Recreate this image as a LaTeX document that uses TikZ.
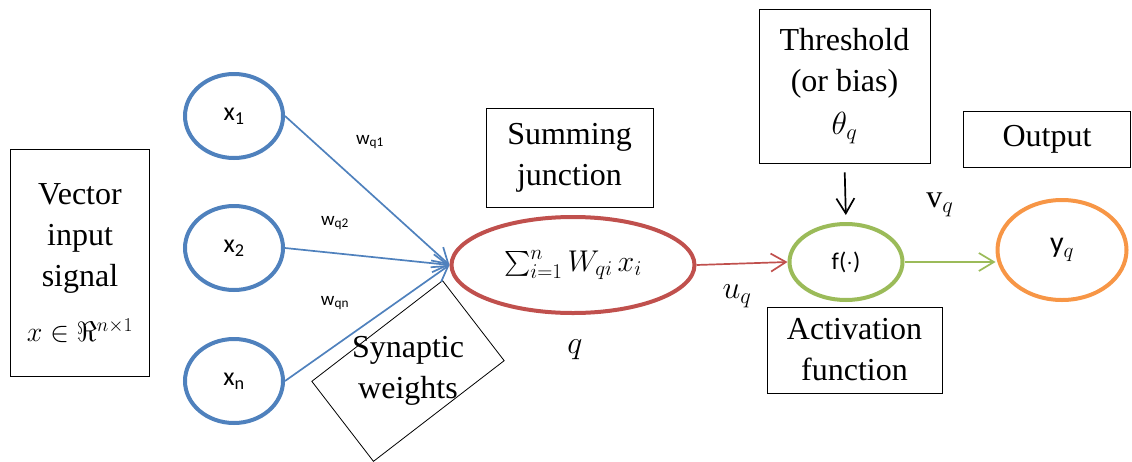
\RequirePackage{fix-cm}
\documentclass[tikz,border=0pt]{standalone}
\usepackage{exscale}
\usepackage{fontspec}
\setmainfont{Liberation Serif}
\setsansfont{Carlito}
\usetikzlibrary{arrows.meta, shapes.geometric}
\definecolor{inblue}{RGB}{79,129,189}
\definecolor{sumred}{RGB}{192,80,77}
\definecolor{actgreen}{RGB}{155,187,89}
\definecolor{outorange}{RGB}{247,150,70}

\begin{document}
\begin{tikzpicture}[
  x=1pt, y=-1pt,
  box/.style={draw, line width=0.8pt, inner sep=0pt},
  txt/.style={align=center, font=\fontsize{32}{41}\selectfont},
  cell/.style={ellipse, line width=4pt, inner sep=0pt, font=\sffamily\fontsize{26}{30}\selectfont},
  wt/.style={font=\sffamily\fontsize{19}{22}\selectfont},
  tip/.style={-{Straight Barb[length=15pt,width=18pt]}, line width=1.7pt},
]
\useasboundingbox (0,0) rectangle (1132,461);
% boxes with their captions
\node[box, txt, minimum width=139pt, minimum height=227pt] (vec) at (80,263)
  {Vector\\input\\signal\\[14pt]{\fontsize{28}{34}\selectfont$x \in \Re^{n\times 1}$}};
\node[box, txt, minimum width=167pt, minimum height=99pt] (sumbox) at (569.5,157.5) {Summing\\junction};
\node[box, txt, minimum width=171pt, minimum height=154pt] (thr) at (844.5,86) {Threshold\\(or bias)\\[2pt]$\theta_q$};
\node[box, txt, minimum width=167pt, minimum height=56pt] (outbox) at (1047,139) {Output};
\node[box, txt, minimum width=175pt, minimum height=86pt] (actbox) at (854.5,350) {Activation\\function};
\node[box, rotate=37.6, minimum width=165pt, minimum height=101pt] (synbox) at (408,371) {};
\node[txt] (syn) at (synbox.center) {Synaptic\\weights};
% neurons
\node[cell, draw=inblue, minimum width=98pt, minimum height=84pt] (x1) at (234,116) {x\textsubscript{1}};
\node[cell, draw=inblue, minimum width=98pt, minimum height=84pt] (x2) at (234,248) {x\textsubscript{2}};
\node[cell, draw=inblue, minimum width=98pt, minimum height=84pt] (xn) at (234,381) {x\textsubscript{n}};
\node[cell, draw=sumred, minimum width=243pt, minimum height=96pt, font=\fontsize{30}{36}\selectfont] (sum) at (573,265)
  {$\sum_{i=1}^{n} W_{qi}\, x_i$};
\node[cell, draw=actgreen, minimum width=113pt, minimum height=76pt, font=\sffamily\fontsize{24}{28}\selectfont] (f) at (846,262) {f($\cdot$)};
\node[cell, draw=outorange, minimum width=129pt, minimum height=100pt, font=\fontsize{30}{36}\selectfont] (y) at (1062,250) {\textsf{y}$_q$};
% labels
\node[wt] (w1) at (370,142) {w\textsubscript{q1}};
\node[wt] (w2) at (335,223) {w\textsubscript{q2}};
\node[wt] (wn) at (335,303) {w\textsubscript{qn}};
\node[txt] (q) at (575,350) {$q$};
\node[txt] (u) at (737,296) {$u_q$};
\node[txt] (v) at (940,205) {v$_q$};
% connections
\draw[tip, inblue] (x1.east) -- (sum.west);
\draw[tip, inblue] (x2.east) -- (sum.west);
\draw[tip, inblue] (xn.east) -- (sum.west);
\draw[tip, sumred] (sum.east) -- (f.west);
\draw[tip, actgreen] (f.east) -- (f.east -| y.west);
\draw[tip, black, shorten <=9pt, shorten >=7pt] (thr.south) -- (f.north);
\end{tikzpicture}
\end{document}
